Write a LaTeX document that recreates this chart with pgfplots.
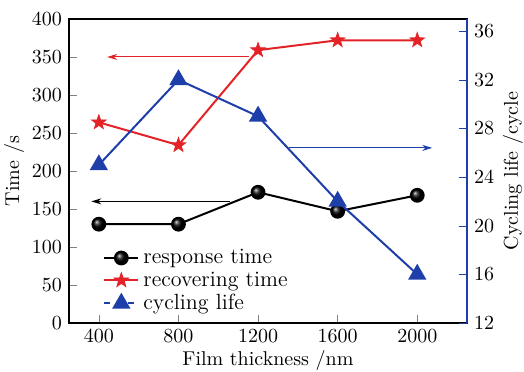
\documentclass[border=0pt]{standalone}
\usepackage{pgfplots}
\pgfplotsset{compat=1.18}
\usetikzlibrary{arrows.meta,calc}
\definecolor{cred}{RGB}{228,35,40}
\definecolor{cblue}{RGB}{30,62,170}
\pgfdeclareplotmark{fstar}{%
  \pgfpathmoveto{\pgfpointpolar{90}{\pgfplotmarksize}}%
  \pgfpathlineto{\pgfpointpolar{126}{0.40*\pgfplotmarksize}}%
  \pgfpathlineto{\pgfpointpolar{162}{\pgfplotmarksize}}%
  \pgfpathlineto{\pgfpointpolar{198}{0.40*\pgfplotmarksize}}%
  \pgfpathlineto{\pgfpointpolar{234}{\pgfplotmarksize}}%
  \pgfpathlineto{\pgfpointpolar{270}{0.40*\pgfplotmarksize}}%
  \pgfpathlineto{\pgfpointpolar{306}{\pgfplotmarksize}}%
  \pgfpathlineto{\pgfpointpolar{342}{0.40*\pgfplotmarksize}}%
  \pgfpathlineto{\pgfpointpolar{18}{\pgfplotmarksize}}%
  \pgfpathlineto{\pgfpointpolar{54}{0.40*\pgfplotmarksize}}%
  \pgfpathclose
  \pgfusepathqfillstroke}
\pgfplotsset{
  /pgf/number format/1000 sep={},
}
\begin{document}
\begin{tikzpicture}
\begin{axis}[
  name=ax,
  scale only axis, width=199pt, height=152pt,
  xmin=250, xmax=2250, ymin=0, ymax=400,
  xtick={400,800,1200,1600,2000},
  ytick={0,50,...,400},
  xtick pos=bottom, ytick pos=left, tick align=inside,
  major tick length=4pt,
  xlabel={Film thickness /nm}, ylabel={Time /s},
  xlabel style={yshift=3pt},
  ylabel style={yshift=-3pt},
  axis line style={line width=0.6pt},
  legend style={draw=none, fill=none, at={(0.07,0.27)}, anchor=north west,
    row sep=-1.5pt, font=\fontsize{11}{13}\selectfont},
  legend cell align=left,
]
\addplot[black, line width=1pt, mark=ball, mark size=3.2pt, mark options={ball color=black}]
  coordinates {(400,130) (800,130) (1200,172) (1600,147) (2000,168)};
\addlegendentry{response time}
\addplot[cred, line width=1pt, mark=fstar, mark size=3.8pt, mark options={fill=cred, draw=cred, line width=0.4pt}]
  coordinates {(400,264) (800,234) (1200,359) (1600,372) (2000,372)};
\addlegendentry{recovering time}
\addlegendimage{cblue, line width=1pt, dashed, mark=triangle*, mark size=4.3pt, mark options={solid, fill=cblue}}
\addlegendentry{cycling life}
\addplot[cred, line width=0.5pt, -{Stealth[length=5pt,width=3pt]}, forget plot]
  coordinates {(1157,350) (442,350)};
\addplot[black, line width=0.5pt, -{Stealth[length=5pt,width=3pt]}, forget plot]
  coordinates {(1057,160) (362,160)};
\end{axis}
\begin{axis}[
  scale only axis, width=199pt, height=152pt,
  xmin=250, xmax=2250, ymin=12, ymax=37,
  axis x line=none, axis y line*=right,
  ytick={12,16,...,36}, tick align=inside,
  major tick length=4pt,
  y axis line style={cblue, line width=0.6pt},
  ytick style={cblue},
  ylabel={Cycling life /cycle},
  ylabel style={yshift=2.5pt},
]
\addplot[cblue, line width=1pt, mark=triangle*, mark size=4.3pt, mark options={fill=cblue}]
  coordinates {(400,25) (800,32) (1200,29) (1600,22) (2000,16)};
\addplot[cblue, line width=0.5pt, -{Stealth[length=5pt,width=3pt]}]
  coordinates {(1358,26.4) (2075,26.4)};
\end{axis}
\pgfresetboundingbox
\path ($(ax.south west)+(-34.5pt,-24.5pt)$) rectangle ($(ax.north east)+(28.5pt,9.5pt)$);
\end{tikzpicture}
\end{document}
